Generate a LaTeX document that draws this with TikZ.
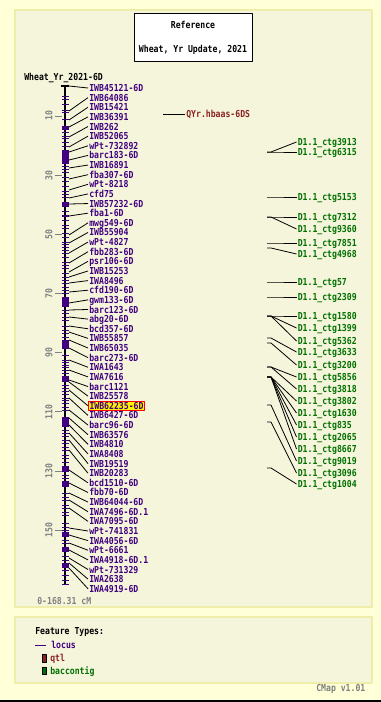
\documentclass[tikz,border=0pt]{standalone}
\usepackage{fontspec}
\newfontfamily\cmapfont[FakeStretch=0.85]{DejaVu Sans Mono}
\definecolor{outerbg}{HTML}{FFFFD8}
\definecolor{panelbg}{HTML}{F5F5DC}
\definecolor{panelrule}{HTML}{EEEEAA}
\definecolor{locuscol}{HTML}{400080}
\definecolor{qtlcol}{HTML}{8B2323}
\definecolor{ctgcol}{HTML}{007000}
\tikzset{
  plain/.style={anchor=west, inner sep=0pt, text height=5.3pt, text depth=0pt},
  mlabel/.style={plain, inner sep=0.75pt, text=locuscol},
  hilite/.style={mlabel, draw=red, fill=yellow, line width=0.75pt},
  clabel/.style={plain, inner sep=0.75pt, text=ctgcol},
  panel/.style={fill=panelbg, draw=panelrule, line width=1.5pt},
  conn/.style={line width=0.6pt},
}

\begin{document}
\begin{tikzpicture}[x=0.75pt, y=-0.75pt, font=\cmapfont\bfseries\fontsize{7.2}{8}\selectfont, line join=round]
 % Frame
 \useasboundingbox (0,0) rectangle (381,702);
 \fill[outerbg] (0,0) rectangle (381,702);
 \draw[panel] (15,10) rectangle (372,607);
 \draw[panel] (15,617) rectangle (372,683);
 \draw[line width=1.5pt] (0,701) -- (381,701);
 \node[draw, fill=white, line width=0.75pt, minimum width=88.5pt, minimum height=36pt, align=center] (title) at (193,38)
   {Reference\\[10pt]Wheat, Yr Update, 2021};
 \node[plain] (maptitle) at (24,77) {Wheat\_Yr\_2021-6D};
 % Scale
 \foreach \v in {10,30,...,150} {
   \pgfmathsetmacro\ys{86.4+2.957*\v}
   \draw[gray] (55,\ys) -- (62,\ys);
   \node[gray, rotate=90, inner sep=0pt] (s\v) at (49,\ys) {\v};
 }
 \node[plain, text=gray] (range) at (37,601) {0-168.31 cM};
 % Chromosome
 \draw[line width=1.5pt] (65,86) -- (65,584);
 \draw[line width=1pt] (61,86) -- (69,86);
 \foreach \y in {97,100,105,111,113,120,133,137,139,143,147,167,170,173,178,182,187,192,195,198,212,216,220,225,228,233,237,242,244,247,250,253,257,262,265,268,273,277,280,283,287,290,293,310,313,317,320,326,330,333,337,355,360,362,365,367,370,373,376,385,388,391,394,398,400,403,407,410,430,433,436,440,443,447,450,455,458,462,475,478,493,497,500,505,508,512,515,523,527,530,540,543,556,560,570,575,580,584}
   \draw[locuscol, line width=0.75pt] (61.5,\y) -- (68.5,\y);
 \foreach \a/\b in {126/130,150/164,202/207,297/307,340/349,377/382,417/427,466/472,481/487,532/537,547/552,563/568}
   \fill[locuscol] (61.5,\a) rectangle (68.5,\b);
 % Loci
 \foreach \lab/\yf [count=\i] in {IWB45121-6D/86, IWB64086/111, IWB15421/120, IWB36391/127, IWB262/137, IWB52065/147,
   wPt-732892/152, barc183-6D/160, IWB16891/168, fba307-6D/179, wPt-8218/190, cfd75/198, IWB57232-6D/204,
   fba1-6D/216, mwg549-6D/235, IWB55904/243, wPt-4827/253, fbb283-6D/263, psr106-6D/272, IWB15253/277,
   IWA8496/283, cfd190-6D/292, gwm133-6D/303, barc123-6D/310, abg20-6D/317, bcd357-6D/326, IWB55857/332,
   IWB65035/340, barc273-6D/348, IWA1643/360, IWA7616/370, barc1121/380, IWB25578/382, IWB62235-6D/390,
   IWB6427-6D/398, barc96-6D/410, IWB63576/418, IWB4810/425, IWA8408/433, IWB19519/440, IWB20283/450,
   bcd1510-6D/470, fbb70-6D/483, IWB64044-6D/493, IWA7496-6D.1/500, IWA7095-6D/508, wPt-741831/528,
   IWA4056-6D/535, wPt-6661/543, IWA4918-6D.1/550, wPt-731329/558, IWA2638/563, IWA4919-6D/568} {
   \ifnum\i=34 \def\mst{hilite}\else\def\mst{mlabel}\fi
   \node[\mst] (m\i) at (88,{88+9.63*(\i-1)}) {\lab};
   \coordinate (f\i) at (69,\yf);
   \draw[conn] (f\i) -- (m\i.west);
 }
 % QTL
 \node[plain, inner sep=0.75pt, text=qtlcol] (qtl) at (185,114) {QYr.hbaas-6DS};
 \coordinate (qf) at (163,114);
 \draw[conn] (qf) -- (qtl.west);
 % Contigs
 \foreach \n/\yf/\yl in {3913/152/142, 6315/152/152, 5153/197/197, 7312/217/217, 9360/217/229, 7851/243/243,
   4968/248/254, 57/282/282, 2309/297/297, 1580/316/316, 1399/316/328, 5362/316/341, 3633/338/352,
   3200/343/365, 5856/367/377, 3818/367/389, 3802/377/401, 1630/377/413, 835/377/425, 2065/377/437,
   8667/377/449, 9019/405/461, 3096/422/473, 1004/468/484} {
   \node[clabel] (c\n) at (296.5,\yl) {D1.1\_ctg\n};
   \coordinate (cf\n) at (267,\yf);
   \draw[conn] (cf\n) -- ++(4,0) -- (c\n.west);
 }
 % Legend
 \node[plain] (ftypes) at (35,631) {Feature Types:};
 \coordinate (lk) at (35,645);
 \draw[locuscol, line width=0.75pt] (lk) -- ++(11,0);
 \node[plain, text=locuscol] (locus) at (51,645) {locus};
 \draw[fill=qtlcol, line width=0.5pt] (42,654) rectangle (46,662);
 \node[plain, text=qtlcol] (qtlkey) at (50,658) {qtl};
 \draw[fill=ctgcol, line width=0.5pt] (42,667) rectangle (46,674);
 \node[plain, text=ctgcol] (ctgkey) at (50,671) {baccontig};
 \node[plain, text=gray] (ver) at (316,688) {CMap v1.01};
\end{tikzpicture}
\end{document}
